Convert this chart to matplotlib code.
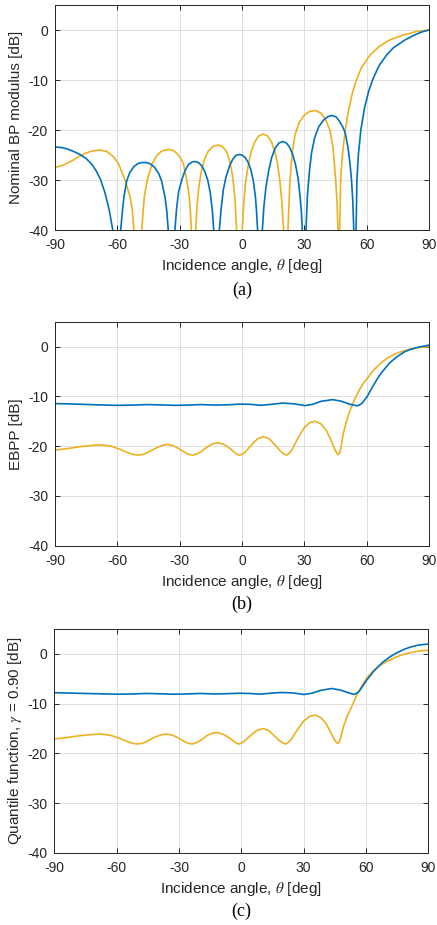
import matplotlib
matplotlib.use("Agg")
import matplotlib.pyplot as plt

# ---------------- data ----------------
# Panel (a): nominal beampattern modulus [dB]
a_blue_deg = [-90, -87, -84, -81, -78, -75, -72, -70, -68, -66, -64, -62.2, -60.3,
              -58.4, -57.5, -56.8, -55.5, -54, -52, -50, -48, -46, -44, -42, -40, -38.7, -37.1, -36.2, -35.5, -34,
              -32.3, -31.5, -30.5, -29, -27.5, -25.8, -24, -22.5, -21, -19.5, -18, -16.5, -15.3, -14.3, -13.6, -12.3,
              -10.9, -10.1, -9.0, -7.7, -6, -4.5, -3, -1.5, 0, 1.5, 3, 4.3, 5.5, 6.5, 7.0, 7.5, 8.7,
              9.8, 10.5, 11.5, 12.8, 14.3, 16, 17.8, 19.6, 21.4, 23, 24.5, 25.8, 27, 28, 28.6, 29.0, 30,
              30.8, 31.5, 32.5, 33.5, 35, 37, 39.5, 41.5, 43.4, 45.3, 47, 48.5, 49.7, 51, 52, 52.7, 53.3, 53.8, 54.3,
              54.9, 55.3, 56, 57.2, 59, 61, 63, 66, 69.6, 73, 78.4, 83, 86.5, 90]
a_blue_db = [-23.4, -23.5, -23.8, -24.3, -24.9, -25.7, -27.0, -28.3, -30.0, -32.5, -35.8, -40, -60,
             -40, -36.0, -33.3, -30.2, -28.5, -27.3, -26.7, -26.5, -26.5, -26.8, -27.5, -28.8, -30.2, -33.3, -36.2, -40, -60,
             -40, -35.8, -32.3, -30.0, -28.2, -26.9, -26.4, -26.3, -26.5, -27.1, -28.2, -30.0, -32.5, -36.0, -40, -60,
             -40, -36.0, -32.0, -29.4, -27.2, -25.9, -25.1, -24.9, -25.0, -25.5, -26.5, -28.0, -30.3, -33.5, -36.3, -40, -60,
             -40, -35.5, -31.5, -28.2, -25.5, -23.6, -22.6, -22.3, -22.6, -23.5, -25.0, -27.0, -29.7, -33.5, -36.5, -40, -60,
             -40, -33.0, -28.0, -24.5, -21.5, -19.3, -17.9, -17.3, -17.1, -17.4, -18.3, -19.4, -20.6, -23.5, -26.8, -30.0, -34.0, -40, -60,
             -40, -30.0, -25.0, -20.0, -15.5, -12.2, -9.8, -7.1, -5.0, -3.5, -2.0, -1.0, -0.4, 0.0]

a_yel_deg = [-90, -86, -82, -78, -75, -72, -68.3, -65, -62, -59.5, -56.3, -53.9, -52.8, -52, -50.2,
             -48.3, -47, -45.6, -43.2, -41, -39, -37, -35, -33, -31, -29.5, -28.2, -26.6, -25.4, -24.8, -24.4, -23.8,
             -22.3, -21.6, -20.8, -19.6, -18, -16.2, -14, -11.6, -9.4, -7.5, -6, -4.9, -3.9, -3.2, -2.6, -1.2,
             0.1, 0.8, 1.6, 2.8, 4.3, 6, 8, 10.2, 12.3, 14.2, 15.8, 17.2, 18.3, 19.2, 20, 21,
             22.1, 23.1, 24.2, 25.5, 27.5, 30, 32.5, 35.3, 38, 40.3, 42.3, 43.8, 45.1, 45.8, 46.2, 46.5,
             47, 47.5, 48.3, 49.7, 51.3, 53, 54.8, 57.5, 61.6, 66, 71, 77.6, 84, 90]
a_yel_db = [-27.5, -27.0, -26.2, -25.2, -24.6, -24.2, -24.0, -24.3, -25.3, -26.7, -30.0, -33.3, -36.0, -40, -60,
            -40, -33.3, -30.0, -26.7, -25.1, -24.3, -24.0, -23.9, -24.1, -24.8, -25.7, -26.7, -30.0, -33.3, -36.5, -40, -60,
            -40, -35.0, -31.5, -28.3, -25.8, -24.2, -23.3, -23.0, -23.3, -24.3, -26.0, -28.3, -31.5, -35.0, -40, -60,
            -40, -35.0, -31.0, -27.5, -24.5, -22.5, -21.2, -20.8, -21.2, -22.4, -24.3, -27.0, -30.5, -34.5, -40, -60,
            -40, -30.0, -24.5, -21.0, -18.5, -17.0, -16.3, -16.1, -16.6, -18.0, -20.0, -23.5, -30.0, -35.0, -40, -60,
            -40, -30.0, -25.0, -20.0, -16.0, -12.8, -10.3, -7.5, -5.0, -3.3, -2.0, -1.0, -0.3, 0.0]

# Panel (b): EBPP [dB]
b_blue_deg = [-90, -80, -70, -60, -52, -46, -40, -33, -26, -20, -13, -7, -1, 4, 9, 14, 19.6, 25, 30.3,
              34, 38, 43.6, 48, 52, 55.5, 57.5, 60, 63.2, 66, 68, 71, 74.4, 78, 80.8, 85, 90]
b_blue_db = [-11.45, -11.55, -11.7, -11.8, -11.75, -11.65, -11.7, -11.8, -11.75, -11.65, -11.75, -11.7, -11.55,
             -11.6, -11.8, -11.6, -11.35, -11.5, -11.85, -11.6, -11.0, -10.65, -11.0, -11.6, -11.9, -11.5,
             -10.2, -7.8, -5.9, -4.8, -3.3, -2.1, -1.1, -0.6, -0.1, 0.3]

b_yel_deg = [-90, -84, -78, -72, -67.5, -63, -59, -55, -52.5, -50.2, -48, -46, -42, -38.5, -36, -33, -30, -27,
             -25.2, -23.6, -22, -20, -16.5, -14, -11.6, -9, -6, -3.5, -2.2, -1, 0.2, 1.5, 4.5, 7.5, 10.3, 13, 16,
             18.5, 20.3, 21.5, 22.6, 24, 27, 30, 32.5, 35.1, 38, 40.5, 42.5, 44.5, 45.6, 46.3, 47, 47.7, 48.7,
             50.3, 52, 54.4, 56.5, 58.4, 61, 63.2, 66, 69.6, 73, 76, 80, 85, 90]
b_yel_db = [-20.8, -20.5, -20.1, -19.85, -19.75, -20.0, -20.6, -21.3, -21.65, -21.8, -21.7, -21.4, -20.5,
            -19.85, -19.65, -19.9, -20.6, -21.4, -21.7, -21.8, -21.6, -21.2, -20.1, -19.5, -19.3, -19.6, -20.4,
            -21.3, -21.7, -21.8, -21.6, -21.2, -19.8, -18.5, -18.1, -18.5, -19.8, -21.0, -21.6, -21.8, -21.5,
            -20.8, -18.3, -16.3, -15.3, -15.0, -15.5, -16.8, -18.5, -20.5, -21.4, -21.7, -21.4, -20.3, -17.5,
            -15.0, -12.8, -10.4, -8.7, -7.4, -6.0, -4.8, -3.6, -2.4, -1.6, -1.1, -0.6, -0.2, 0.0]

# Panel (c): quantile function, gamma = 0.90 [dB]
c_blue_deg = [-90, -80, -70, -60, -52, -46, -40, -33, -26, -20, -13, -7, -1, 4, 9, 14, 19.4, 25, 30.2,
              34, 38, 43.5, 48, 51.5, 54.2, 56, 57.1, 60.3, 63.5, 66, 68.3, 71.5, 74.8, 78, 81.2, 85, 89.2, 90]
c_blue_db = [-7.8, -7.9, -8.0, -8.1, -8.05, -7.95, -8.0, -8.1, -8.05, -7.95, -8.05, -8.0, -7.9, -7.95,
             -8.1, -7.9, -7.75, -7.85, -8.15, -7.9, -7.35, -6.95, -7.3, -7.8, -8.15, -7.8, -7.3, -5.3, -3.6,
             -2.5, -1.6, -0.6, 0.2, 0.85, 1.35, 1.75, 1.95, 1.97]

c_yel_deg = [-90, -84, -78, -72, -67.5, -63, -59, -55, -52.5, -50.2, -48, -46, -42, -38.5, -36, -33, -30, -27,
             -25.2, -23.6, -22, -20, -16.5, -14, -11.7, -9, -6, -3.5, -2.2, -1, 0.2, 1.5, 4.5, 7.5, 10.5, 13, 16,
             18.5, 20.2, 21.4, 22.5, 24, 27, 30, 32.8, 35.6, 38.3, 40.8, 42.8, 44.8, 45.8, 46.5, 47.1, 47.7,
             49.4, 51, 52.7, 55.9, 58, 60.3, 63.5, 66.7, 70, 74.8, 78, 82.8, 86, 90]
c_yel_db = [-17.1, -16.8, -16.45, -16.2, -16.1, -16.35, -16.9, -17.6, -17.95, -18.1, -18.0, -17.7, -16.8,
            -16.25, -16.1, -16.35, -16.95, -17.7, -18.0, -18.1, -17.9, -17.5, -16.4, -15.95, -15.8, -16.1,
            -16.8, -17.6, -18.0, -18.1, -17.9, -17.5, -16.4, -15.35, -15.0, -15.35, -16.5, -17.5, -17.95,
            -18.1, -17.8, -17.2, -15.2, -13.5, -12.55, -12.3, -12.8, -14.0, -15.6, -17.2, -17.8, -18.0, -17.7,
            -17.0, -14.3, -12.5, -11.0, -8.0, -6.4, -4.9, -3.4, -2.35, -1.5, -0.6, -0.1, 0.4, 0.6, 0.75]

x_ticks = [-90, -60, -30, 0, 30, 60, 90]
y_ticks = [-40, -30, -20, -10, 0]
x_label = r"Incidence angle, $\theta$ [deg]"
y_labels = ["Nominal BP modulus [dB]", "EBPP [dB]", r"Quantile function, $\gamma$ = 0.90 [dB]"]
captions = ["(a)", "(b)", "(c)"]

# ---------------- styling ----------------
plt.rcParams["font.family"] = ["Liberation Sans", "DejaVu Sans"]
plt.rcParams["mathtext.fontset"] = "stix"
plt.rcParams["axes.unicode_minus"] = False

BLUE = "#0072BD"
YEL = "#EDB120"
AX = "#262626"

W, H = 437, 925
fig = plt.figure(figsize=(W / 100, H / 100), dpi=100)

# axes boxes in pixels: (left, top, right, bottom)
boxes = [(55, 5, 429, 230), (55, 321.7, 429, 545.7), (54.3, 629, 428.3, 853)]
xlabel_y = [265.7, 581.7, 889.3]
caption_y = [290, 604, 911]
ylabel_x = [16, 16, 15.5]

series = [
    (a_blue_deg, a_blue_db, a_yel_deg, a_yel_db),
    (b_blue_deg, b_blue_db, b_yel_deg, b_yel_db),
    (c_blue_deg, c_blue_db, c_yel_deg, c_yel_db),
]

for i, (l, t, r, b) in enumerate(boxes):
    ax = fig.add_axes([l / W, 1 - b / H, (r - l) / W, (b - t) / H])
    bd, bv, yd, yv = series[i]
    ax.plot(yd, yv, color=YEL, lw=1.2, solid_joinstyle="round")
    ax.plot(bd, bv, color=BLUE, lw=1.2, solid_joinstyle="round")
    ax.set_xlim(-90, 90)
    ax.set_ylim(-40, 5)
    ax.set_xticks(x_ticks)
    ax.set_yticks(y_ticks)
    ax.grid(True, color="#e0e0e0", lw=0.7)
    ax.set_axisbelow(True)
    for s in ax.spines.values():
        s.set_color(AX)
        s.set_linewidth(0.7)
    ax.tick_params(direction="in", length=3.5, width=0.7, colors=AX, labelsize=10,
                   top=True, right=True, pad=5)
    ax.tick_params(axis="x", pad=6)
    fig.text(ylabel_x[i] / W, 1 - ((t + b) / 2) / H, y_labels[i], rotation=90,
             ha="center", va="center", fontsize=11, color=AX)
    fig.text(((l + r) / 2) / W, 1 - xlabel_y[i] / H, x_label, ha="center", va="center",
             fontsize=11, color=AX)
    fig.text(((l + r) / 2) / W, 1 - caption_y[i] / H, captions[i], ha="center", va="center",
             fontsize=13, color="black", family=["Liberation Serif", "DejaVu Serif"])

fig.savefig("out.png", dpi=100)
